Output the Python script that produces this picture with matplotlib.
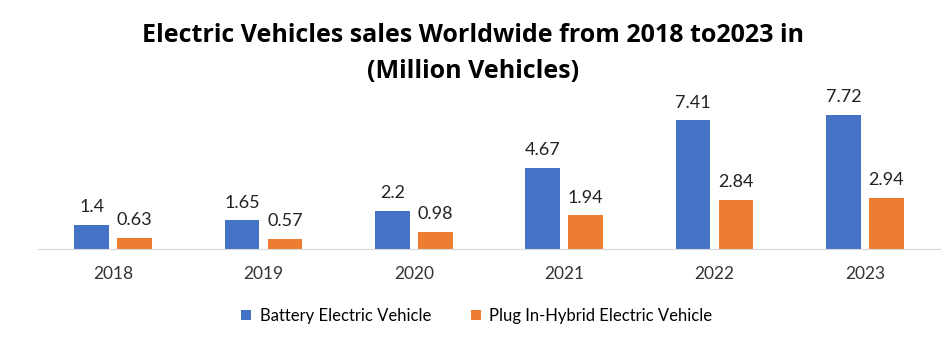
import numpy as np
import matplotlib
matplotlib.use("Agg")
import matplotlib.pyplot as plt

# values (million vehicles)
years = ["2018", "2019", "2020", "2021", "2022", "2023"]
bev = [1.4, 1.65, 2.2, 4.67, 7.41, 7.72]
phev = [0.63, 0.57, 0.98, 1.94, 2.84, 2.94]

blue = "#4472C4"
orange = "#ED7D31"

plt.rcParams['font.family'] = ['Lato', 'DejaVu Sans']

fig = plt.figure(figsize=(9.46, 3.47), dpi=100)
# axes: x 38..940 px, y from 90 to 249 px (top origin)
ax = fig.add_axes([38 / 946, 1 - 249 / 347, 902 / 946, 159 / 347])

x = np.arange(len(years))
w = 0.23
b1 = ax.bar(x - 0.143, bev, w, color=blue, label="Battery Electric Vehicle")
b2 = ax.bar(x + 0.143, phev, w, color=orange, label="Plug In-Hybrid Electric Vehicle")

for bars, vals in [(b1, bev), (b2, phev)]:
    for r, v in zip(bars, vals):
        ax.annotate(f"{v:g}", (r.get_x() + r.get_width() / 2, v),
                    xytext=(0, 7), textcoords="offset points",
                    ha="center", va="bottom", fontsize=13, color="#222222")

ax.set_xlim(-0.5, len(years) - 0.5)
ax.set_ylim(0, 159 / 17.35)
ax.set_xticks(x)
ax.set_xticklabels(years, fontsize=12.5, color="#333333")
ax.tick_params(axis="x", length=0, pad=12)
ax.set_yticks([])
for s in ["top", "right", "left"]:
    ax.spines[s].set_visible(False)
ax.spines["bottom"].set_color("#D9D9D9")

fig.text(0.5, 1 - 36 / 347, "Electric Vehicles sales Worldwide from 2018 to2023 in",
         ha="center", va="center", fontsize=18, fontweight="bold",
         family=["Open Sans", "DejaVu Sans"])
fig.text(0.5, 1 - 71 / 347, "(Million Vehicles)",
         ha="center", va="center", fontsize=18, fontweight="bold",
         family=["Open Sans", "DejaVu Sans"])

fig.legend(handles=[b1, b2], loc="center", bbox_to_anchor=(477 / 946, 1 - 316 / 347),
           ncol=2, frameon=False, fontsize=12, handlelength=0.6, handleheight=0.6,
           columnspacing=2.4, handletextpad=0.5)

fig.savefig("out.png", dpi=100, facecolor="white")
